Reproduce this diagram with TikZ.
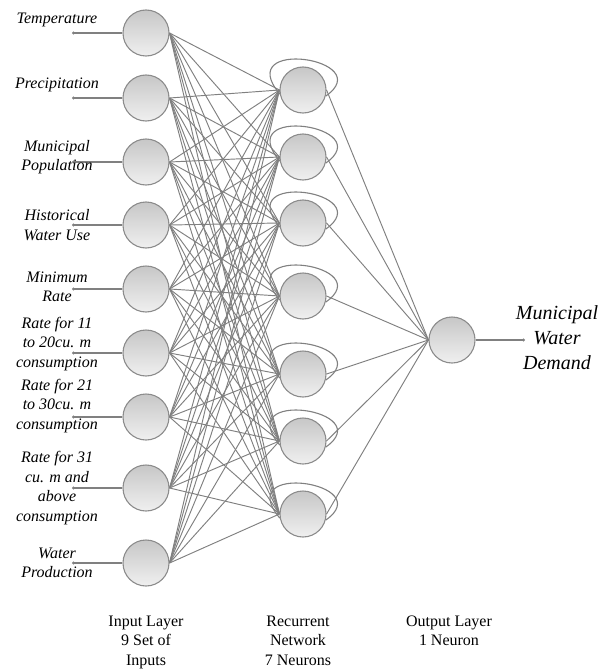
\documentclass[tikz,border=0pt]{standalone}
\usepackage{fontspec}
\setmainfont{Liberation Serif}
\usetikzlibrary{arrows.meta,backgrounds}
\tikzstyle{neuron}=[circle,draw=black!45,line width=1.1pt,top color=black!22,bottom color=black!6,minimum size=46pt,inner sep=0pt]
\tikzstyle{edge} = [draw,black!50,line width=0.95pt]
\tikzstyle{feed} = [draw,black!50,line width=1.1pt]
\tikzstyle{recur} = [draw,black!50,line width=1.1pt]
\tikzstyle{inlabel}=[font=\fontsize{16}{19.5}\selectfont\itshape,align=center]
\tikzstyle{outlabel}=[font=\fontsize{20}{25}\selectfont\itshape,align=center]
\tikzstyle{layerlabel}=[font=\fontsize{16}{19.5}\selectfont,align=center,anchor=north]

\begin{document}
\begin{tikzpicture}[x=1pt,y=1pt]
\useasboundingbox (0,0) rectangle (597,-669);

    % input layer
    \foreach \pos/ \name in {{(146,-33)/1},{(146,-98)/2},{(146,-162)/3},{(146,-225)/4},{(146,-289)/5},{(146,-353)/6},{(146,-417)/7},{(146,-488)/8},{(146,-563)/9}}
        \node[neuron] (i\name) at \pos {};

    % recurrent layer
    \foreach \pos/ \name in {{(303,-90)/1},{(303,-157)/2},{(303,-223)/3},{(303,-296)/4},{(303,-374)/5},{(303,-441)/6},{(303,-514)/7}}
        \node[neuron] (h\name) at \pos {};

    % output layer
    \node[neuron] (o) at (452,-340) {};

    % input to recurrent
    \foreach \source in {1,...,9}
        \foreach \dest in {1,...,7}
            \path[edge] (i\source.east) -- (h\dest.west);

    % recurrent to output, self loops behind the neurons
    \foreach \source in {1,...,7} {
        \path[edge] (h\source.east) -- (o.west);
        \begin{scope}[on background layer]
            \path[recur] (h\source.190) .. controls +(130:75) and +(35:65) .. (h\source.-15);
        \end{scope}
    }

    % inputs
    \foreach \name/\y/\text in {1/-20/{Temperature},2/-85/{Precipitation},3/-157/{Municipal\\Population},4/-225/{Historical\\Water Use},5/-287/{Minimum\\Rate},6/-344/{Rate for 11\\to 20cu. m\\consumption},7/-406/{Rate for 21\\to 30cu. m\\consumption},8/-488/{Rate for 31\\cu. m and\\above\\consumption},9/-563/{Water\\Production}} {
        \coordinate (s\name) at ([xshift=-74pt]i\name.center);
        \path[feed,{Circle[length=3pt]}-] (s\name) -- (i\name);
        \node[inlabel] (l\name) at (57,\y) {\text};
    }

    % output
    \coordinate (out) at (525,-340);
    \path[feed,-{Circle[length=3pt]}] (o) -- (out);
    \node[outlabel] (lo) at (557,-338) {Municipal\\Water\\Demand};

    \node[layerlabel] (lin) at (146,-612) {Input Layer\\9 Set of\\Inputs};
    \node[layerlabel] (lrec) at (298,-612) {Recurrent\\Network\\7 Neurons};
    \node[layerlabel] (lout) at (449,-612) {Output Layer\\1 Neuron};

\end{tikzpicture}
\end{document}
